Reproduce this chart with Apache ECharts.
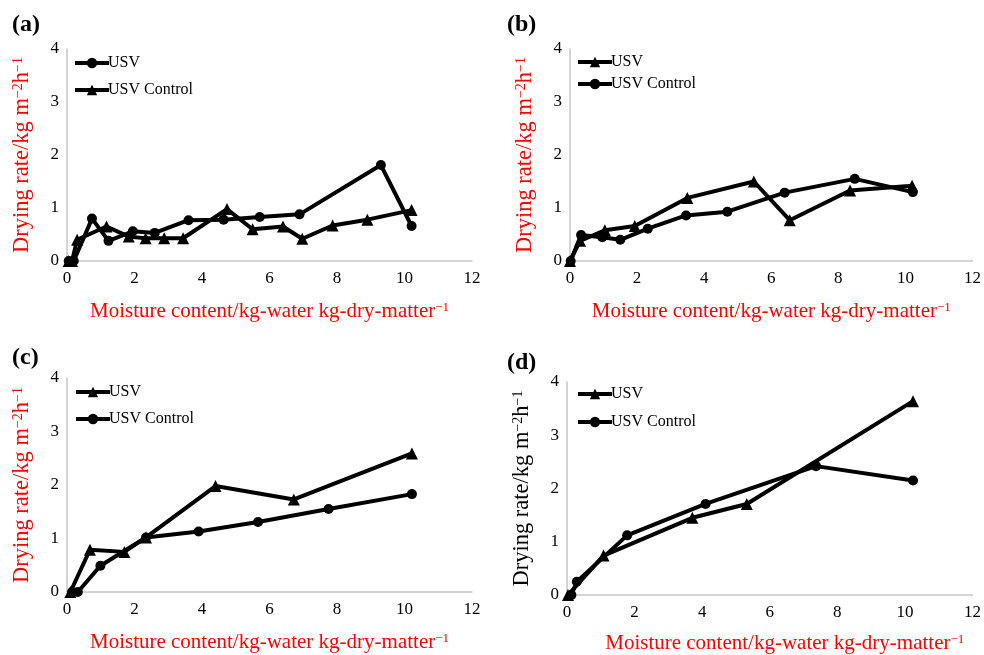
<!DOCTYPE html>
<html>
<head>
<meta charset="utf-8">
<script src="https://cdn.jsdelivr.net/npm/echarts@6/dist/echarts.min.js"></script>
<style>html,body{margin:0;padding:0;background:#fff}#c{width:984px;height:655px}</style>
</head>
<body>
<div id="c"></div>
<script>
// ---- data ----
const xTicks = [0, 2, 4, 6, 8, 10, 12];
const yTicks = [0, 1, 2, 3, 4];
const panelLabels = ['(a)', '(b)', '(c)', '(d)'];
const seriesNames = ['USV', 'USV Control'];

// panel (a): USV = circles, USV Control = triangles
const aUsvX = [0.05, 0.2, 0.74, 1.23, 1.95, 2.6, 3.6, 4.64, 5.71, 6.89, 9.3, 10.21];
const aUsvY = [0, 0, 0.8, 0.38, 0.56, 0.53, 0.77, 0.78, 0.83, 0.88, 1.81, 0.66];
const aCtrlX = [0.05, 0.15, 0.3, 1.17, 1.83, 2.33, 2.88, 3.44, 4.74, 5.5, 6.4, 6.97, 7.87, 8.9, 10.21];
const aCtrlY = [0, 0, 0.4, 0.65, 0.46, 0.43, 0.43, 0.43, 0.98, 0.6, 0.65, 0.42, 0.67, 0.78, 0.96];

// panel (b): USV = triangles, USV Control = circles
const bUsvX = [0, 0.3, 1.04, 1.93, 3.5, 5.48, 6.55, 8.35, 10.2];
const bUsvY = [0, 0.38, 0.58, 0.66, 1.19, 1.5, 0.77, 1.33, 1.42];
const bCtrlX = [0.02, 0.33, 0.96, 1.5, 2.32, 3.46, 4.69, 6.4, 8.49, 10.22];
const bCtrlY = [0, 0.49, 0.45, 0.4, 0.61, 0.86, 0.93, 1.29, 1.55, 1.3];

// panel (c): USV = triangles, USV Control = circles
const cUsvX = [0.1, 0.68, 1.7, 2.34, 4.4, 6.72, 10.22];
const cUsvY = [0, 0.79, 0.75, 1.02, 1.98, 1.73, 2.59];
const cCtrlX = [0.15, 0.32, 0.99, 2.34, 3.9, 5.66, 7.75, 10.22];
const cCtrlY = [0, 0, 0.49, 1.02, 1.13, 1.31, 1.55, 1.83];

// panel (d): USV = triangles, USV Control = circles
const dUsvX = [0.03, 1.08, 3.71, 5.32, 10.24];
const dUsvY = [0, 0.74, 1.45, 1.71, 3.64];
const dCtrlX = [0.13, 0.29, 1.78, 4.1, 7.37, 10.24];
const dCtrlY = [0, 0.25, 1.12, 1.71, 2.42, 2.15];

// ---- build chart ----
const FONT = 'Liberation Serif';
const zip = (xs, ys) => xs.map((x, i) => [x, ys[i]]);

const grids = [
  { left: 67, top: 49, width: 405, height: 212 },
  { left: 570, top: 49, width: 405, height: 212 },
  { left: 67, top: 378, width: 405, height: 214 },
  { left: 567, top: 382, width: 408, height: 214 }
];
const yTitleColor = ['#ff0000', '#ff0000', '#ff0000', '#000000'];
const xNamePad = [[0,0,0,0],[0,0,0,0],[0,0,0,0],[0,0,0,30]];
const xNameGap = [40, 40, 40, 38];

const xAxes = grids.map((g, i) => ({
  type: 'value', gridIndex: i, min: xTicks[0], max: xTicks[xTicks.length - 1], interval: xTicks[1] - xTicks[0],
  splitLine: { show: false }, axisTick: { show: false },
  axisLine: { show: true, lineStyle: { color: '#c6c6c6', width: 1.5 } },
  axisLabel: { color: '#000', fontFamily: FONT, fontSize: 17, margin: 9 },
  name: 'Moisture content/kg-water kg-dry-matter{sup|−1}',
  nameLocation: 'middle', nameGap: xNameGap[i],
  nameTextStyle: {
    color: '#ff0000', fontFamily: FONT, fontSize: 21, padding: xNamePad[i],
    rich: { sup: { color: '#ff0000', fontFamily: FONT, fontSize: 13, verticalAlign: 'top' } }
  }
}));
const yAxes = grids.map((g, i) => ({
  type: 'value', gridIndex: i, min: yTicks[0], max: yTicks[yTicks.length - 1], interval: yTicks[1] - yTicks[0],
  splitLine: { show: false }, axisTick: { show: false },
  axisLine: { show: true, lineStyle: { color: '#c6c6c6', width: 1.5 } },
  axisLabel: { color: '#000', fontFamily: FONT, fontSize: 17, margin: 8 },
  name: 'Drying rate/kg m{sup|−2}h{sup|−1}',
  nameLocation: 'middle', nameGap: 33,
  nameTextStyle: {
    color: yTitleColor[i], fontFamily: FONT, fontSize: 22.5,
    rich: { sup: { color: yTitleColor[i], fontFamily: FONT, fontSize: 14, verticalAlign: 'top' } }
  }
}));

function line(name, panel, xs, ys, symbol) {
  return {
    type: 'line', name: name + '|' + panel, xAxisIndex: panel, yAxisIndex: panel,
    data: zip(xs, ys), symbol: symbol, symbolSize: symbol === 'triangle' ? 12 : 10,
    lineStyle: { color: '#000', width: 4 }, itemStyle: { color: '#000' },
    emphasis: { disabled: true }, animation: false, z: 3
  };
}

const series = [
  line(seriesNames[0], 0, aUsvX, aUsvY, 'circle'),
  line(seriesNames[1], 0, aCtrlX, aCtrlY, 'triangle'),
  line(seriesNames[0], 1, bUsvX, bUsvY, 'triangle'),
  line(seriesNames[1], 1, bCtrlX, bCtrlY, 'circle'),
  line(seriesNames[0], 2, cUsvX, cUsvY, 'triangle'),
  line(seriesNames[1], 2, cCtrlX, cCtrlY, 'circle'),
  line(seriesNames[0], 3, dUsvX, dUsvY, 'triangle'),
  line(seriesNames[1], 3, dCtrlX, dCtrlY, 'circle')
];

const legendPos = [
  { left: 73, top: 55, itemGap: 11 },
  { left: 576, top: 54, itemGap: 6 },
  { left: 74, top: 384, itemGap: 11 },
  { left: 576, top: 386, itemGap: 12 }
];
const legends = legendPos.map((p, i) => ({
  orient: 'vertical', left: p.left, top: p.top, itemGap: p.itemGap, padding: 0,
  itemWidth: 34, itemHeight: 13,
  lineStyle: { width: 4, color: '#000' },
  data: [seriesNames[0] + '|' + i, seriesNames[1] + '|' + i],
  formatter: n => n.split('|')[0],
  textStyle: { color: '#000', fontFamily: FONT, fontSize: 16, padding: [0, 0, 0, -6] },
  selectedMode: false
}));

const titlePos = [[12, 13], [507, 13], [12, 346], [507, 351]];
const titles = titlePos.map((p, i) => ({
  text: panelLabels[i], left: p[0], top: p[1], padding: 0,
  textStyle: { fontFamily: FONT, fontWeight: 'bold', fontSize: 24, color: '#000' }
}));

const chart = echarts.init(document.getElementById('c'), null, { renderer: 'canvas' });
chart.setOption({
  animation: false,
  backgroundColor: '#fff',
  title: titles,
  legend: legends,
  grid: grids,
  xAxis: xAxes,
  yAxis: yAxes,
  series: series
});
</script>
</body>
</html>
